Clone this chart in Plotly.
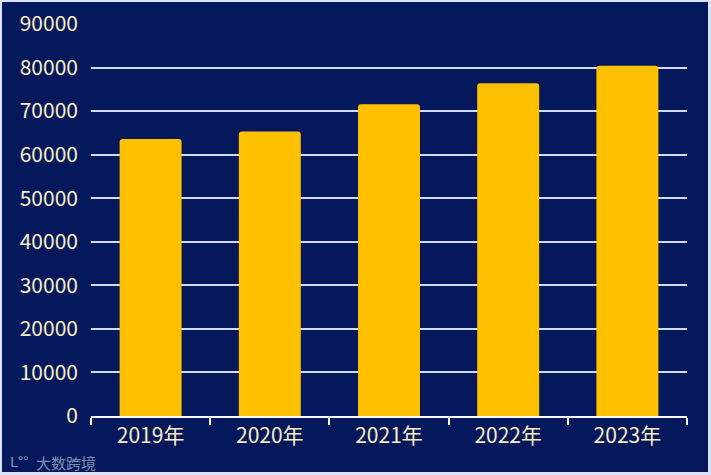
import plotly.graph_objects as go

categories = ["2019年", "2020年", "2021年", "2022年", "2023年"]
values = [63600, 65300, 71600, 76400, 80400]
y_ticks = [0, 10000, 20000, 30000, 40000, 50000, 60000, 70000, 80000, 90000]
y_tick_labels = [str(v) for v in y_ticks]

W, H = 711, 475
L, R, T, B = 91, 24, 24, 59
pw, ph = W - L - R, H - T - B

bg = "#06185c"
txt = "#f7efc4"

fig = go.Figure(go.Bar(x=categories, y=values, marker_color="#ffc000",
                       marker_line_width=0))

fig.update_layout(
    width=W, height=H,
    margin=dict(l=L, r=R, t=T, b=B, autoexpand=False),
    paper_bgcolor=bg, plot_bgcolor=bg,
    bargap=0.48, barcornerradius=3,
    showlegend=False,
    font=dict(family="Noto Sans CJK SC, Noto Sans, sans-serif", color=txt, size=21),
    xaxis=dict(showgrid=False, showline=True, linecolor="#ffffff", linewidth=2,
               ticks="outside", ticklen=7, tickwidth=2, tickcolor="#ffffff",
               tickson="boundaries", tickfont=dict(size=21, color=txt)),
    yaxis=dict(range=[0, 90000], tickvals=y_ticks, ticktext=y_tick_labels,
               showgrid=True, gridcolor="#cfdcf4", gridwidth=2, zeroline=False,
               showline=False, ticklabelstandoff=12,
               tickfont=dict(size=21, color=txt)),
    shapes=[dict(type="rect", xref="paper", yref="paper",
                 x0=-L / pw + 0.5 / pw, x1=(W - L) / pw - 1.5 / pw,
                 y0=-(B) / ph + 1.5 / ph, y1=(H - B) / ph - 0.5 / ph,
                 line=dict(color="#d8e4f6", width=3), layer="above")],
    annotations=[dict(text="大数跨境", xref="paper", yref="paper",
                      x=(34 - L) / pw, y=(416 - 462) / ph, xanchor="left",
                      yanchor="middle", showarrow=False,
                      font=dict(size=15, color="#7f8fb8")),
                 dict(text="ᒪ°°", xref="paper", yref="paper",
                      x=(8 - L) / pw, y=(416 - 461) / ph, xanchor="left",
                      yanchor="middle", showarrow=False,
                      font=dict(size=14, color="#7f8fb8"))],
)

fig.write_html("out.html", config={"displayModeBar": False},
               post_script="document.body.style.margin='0';")
